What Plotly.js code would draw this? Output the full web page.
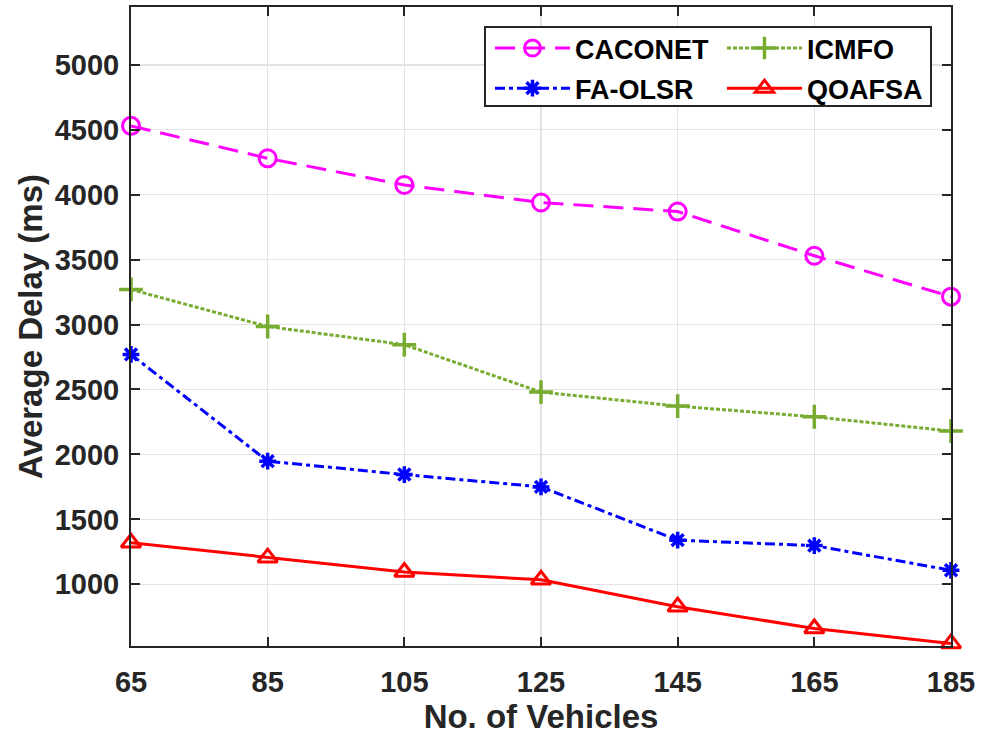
<!DOCTYPE html>
<html>
<head>
<meta charset="utf-8">
<script src="https://cdn.plot.ly/plotly-3.0.1.min.js"></script>
<style>html,body{margin:0;padding:0;background:#fff;}#chart{width:981px;height:740px;}</style>
</head>
<body>
<div id="chart"></div>
<script>
var vehicles = [65, 85, 105, 125, 145, 165, 185];
var caconet = [4530, 4280, 4075, 3940, 3870, 3530, 3215];
var icmfo = [3270, 2985, 2845, 2480, 2372, 2290, 2180];
var faolsr = [2770, 1948, 1845, 1750, 1340, 1298, 1108];
var qoafsa = [1320, 1205, 1095, 1035, 828, 660, 545];
var seriesNames = ["CACONET", "ICMFO", "FA-OLSR", "QOAFSA"];
var xTitle = "No. of Vehicles";
var yTitle = "Average Delay (ms)";

var FONT = "Liberation Sans, Arial, Helvetica, sans-serif";

function tr(name, y, color, dash, symbol, msize, mlw, legendId) {
  return {
    x: vehicles, y: y, name: name, type: "scatter", mode: "lines+markers",
    cliponaxis: false, legend: legendId, legendgroup: name,
    line: {color: color, width: 3, dash: dash},
    marker: {symbol: symbol, size: msize, color: color, line: {color: color, width: mlw}}
  };
}

var data = [
  tr(seriesNames[0], caconet, "#FF00FF", "20px,10px", "circle-open", 17, 3, "legend"),
  tr(seriesNames[2], faolsr, "#0000FF", "10px,4px,4px,4px", "asterisk-open", 14, 3.5, "legend"),
  tr(seriesNames[1], icmfo, "#77AC30", "4px,2px", "cross-thin-open", 17, 3.5, "legend2"),
  tr(seriesNames[3], qoafsa, "#FF0000", "solid", "triangle-up-open", 17, 3, "legend2")
];

var axisCommon = {
  showline: true, mirror: "ticks", linecolor: "#262626", linewidth: 2,
  ticks: "inside", ticklen: 9, tickwidth: 2, tickcolor: "#262626",
  showgrid: true, gridcolor: "#e3e3e3", gridwidth: 1.5,
  zeroline: false,
  tickfont: {family: FONT, size: 29, color: "#262626", weight: "bold"}
};

var legendCommon = {
  orientation: "v", y: 0.9734, xanchor: "left", yanchor: "top",
  bgcolor: "rgba(0,0,0,0)", borderwidth: 0,
  font: {family: FONT, size: 27, color: "#000", weight: "bold"},
  itemwidth: 75, tracegroupgap: 2
};

var layout = {
  width: 981, height: 740,
  margin: {l: 131, r: 30, t: 7, b: 94},
  paper_bgcolor: "#fff", plot_bgcolor: "#fff",
  showlegend: true,
  xaxis: Object.assign({}, axisCommon, {
    range: [65, 185], tickmode: "array", tickvals: vehicles,
    ticklabelstandoff: 9,
    title: {text: xTitle, standoff: 6, font: {family: FONT, size: 33, color: "#262626", weight: "bold"}}
  }),
  yaxis: Object.assign({}, axisCommon, {
    range: [525, 5445], tick0: 0, dtick: 500,
    ticklabelstandoff: 4,
    title: {text: yTitle, standoff: 2, font: {family: FONT, size: 33, color: "#262626", weight: "bold"}}
  }),
  legend: Object.assign({}, legendCommon, {x: 0.4378}),
  legend2: Object.assign({}, legendCommon, {x: 0.7207}),
  shapes: [{
    type: "rect", xref: "paper", yref: "paper", layer: "above",
    x0: 0.4317, x1: 0.9756, y0: 0.845, y1: 0.9687,
    fillcolor: "#fff", line: {color: "#262626", width: 2}
  }]
};

Plotly.newPlot("chart", data, layout, {displayModeBar: false, staticPlot: true});
</script>
</body>
</html>
